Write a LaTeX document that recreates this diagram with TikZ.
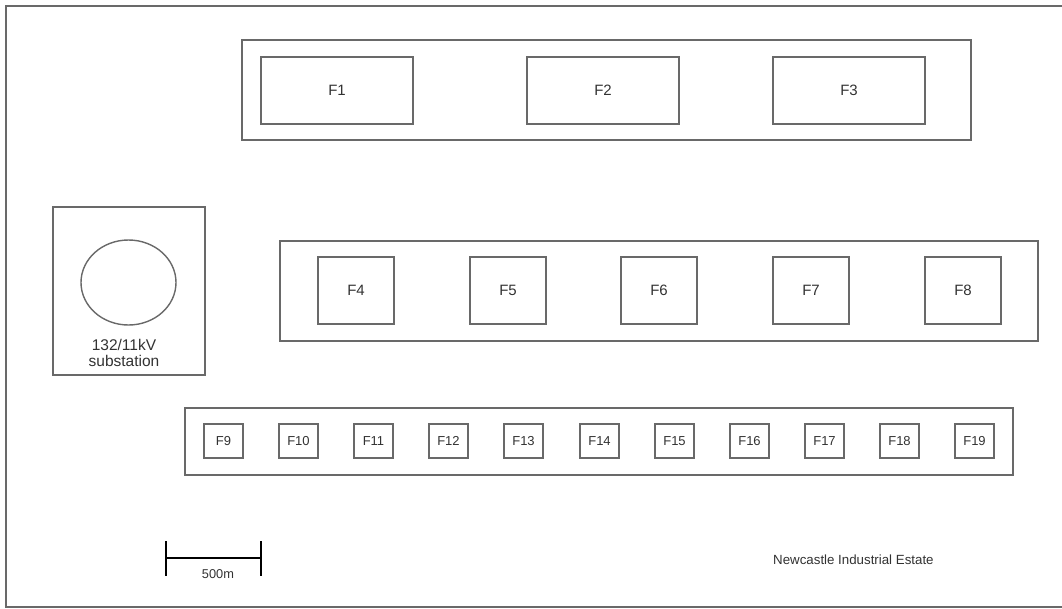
\documentclass[tikz,border=0pt]{standalone}
\usepackage{fontspec}
\setmainfont{Liberation Sans}
\usetikzlibrary{shapes.geometric}
\definecolor{ln}{RGB}{105,105,105}
\definecolor{tx}{RGB}{50,50,50}
\tikzset{
  px/.style={x=1pt,y=-1pt},
  grp/.style={draw=ln,line width=1.4pt,fill=none},
  fac/.style={draw=ln,line width=1.4pt,text=tx,inner sep=0pt,font=\fontsize{15}{17}\selectfont},
  small/.style={font=\fontsize{13}{15}\selectfont},
  lbl/.style={text=tx,inner sep=0pt}
}
\newcommand{\boxat}[7][]{% opts, name, x1, y1, x2, y2, text
  \node[fac,#1,minimum width=#5pt-#3pt,minimum height=#6pt-#4pt] (#2) at ({(#3+#5)/2},{(#4+#6)/2}) {#7};}
\begin{document}
\begin{tikzpicture}[px]
\useasboundingbox (0,0) rectangle (1062,608);
% outer frame (right side runs beyond the picture)
\draw[ln,line width=1.4pt] (1062,6) -- (6,6) -- (6,607) -- (1062,607);
% top group
\draw[grp] (242,40) rectangle (971,140);
\boxat{F1}{261}{57}{413}{124}{F1}
\boxat{F2}{527}{57}{679}{124}{F2}
\boxat{F3}{773}{57}{925}{124}{F3}
% substation
\draw[grp] (53,207) rectangle (205,375);
\node[draw=ln,line width=1.4pt,ellipse,minimum width=95pt,minimum height=85pt,inner sep=0pt] (sub) at (128.5,282.5) {};
\node[lbl,align=center,font=\fontsize{15.5}{16}\selectfont] (subl) at (124,352.5) {132/11kV\\substation};
% middle group
\draw[grp] (280,241) rectangle (1038,341);
\boxat{F4}{318}{257}{394}{324}{F4}
\boxat{F5}{470}{257}{546}{324}{F5}
\boxat{F6}{621}{257}{697}{324}{F6}
\boxat{F7}{773}{257}{849}{324}{F7}
\boxat{F8}{925}{257}{1001}{324}{F8}
% bottom group
\draw[grp] (185,408) rectangle (1013,475);
\foreach \i [count=\k from 0] in {9,...,19}{
  \pgfmathsetmacro{\xa}{round(204+75.1*\k)}
  \pgfmathsetmacro{\xb}{\xa+39}
  \boxat[small]{F\i}{\xa}{424}{\xb}{458}{F\i}
}
% scale bar
\coordinate (sa) at (166,558);
\coordinate (sb) at (261,558);
\draw[black,line width=2.8pt] (sa) -- (sb);
\draw[black,line width=2.8pt] (166,541) -- (166,576);
\draw[black,line width=2.8pt] (261,541) -- (261,576);
\node[lbl,font=\fontsize{12.8}{14}\selectfont] (scl) at (218,574) {500m};
% title
\node[lbl,anchor=west,font=\fontsize{13.3}{15}\selectfont] (title) at (773,560) {Newcastle Industrial Estate};
\end{tikzpicture}
\end{document}
